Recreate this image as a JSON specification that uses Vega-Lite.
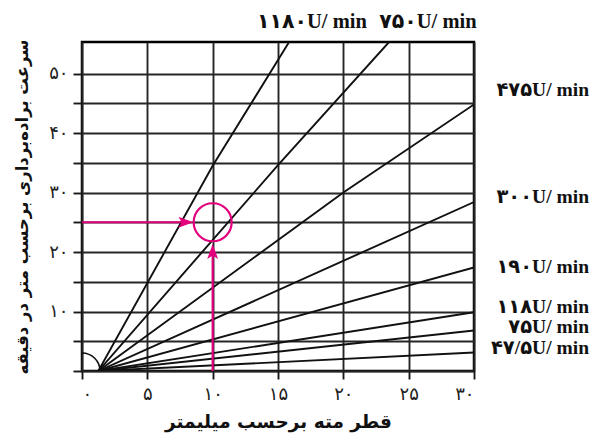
{
  "$schema": "https://vega.github.io/schema/vega-lite/v6.json",
  "width": 392,
  "height": 329,
  "autosize": "none",
  "padding": {"left": 82, "top": 42, "right": 119, "bottom": 67},
  "background": "white",
  "config": {
    "view": {"stroke": "black", "strokeWidth": 2.5},
    "axis": {
      "gridColor": "#262626",
      "gridWidth": 1.9,
      "gridOpacity": 1,
      "tickColor": "#1a1a1a",
      "tickWidth": 1.9,
      "tickSize": 8,
      "domain": false,
      "labelFont": "DejaVu Sans",
      "labelFontSize": 18,
      "labelColor": "#222",
      "titleFont": "DejaVu Sans",
      "titleFontWeight": "bold",
      "titleColor": "#111"
    }
  },
  "datasets": {
    "rays": [
      {"rpm": "1180", "o": 0, "d": 1.25, "v": 0},
      {"rpm": "1180", "o": 1, "d": 10, "v": 34.5},
      {"rpm": "1180", "o": 2, "d": 15.85, "v": 55.3},
      {"rpm": "750", "o": 0, "d": 1.25, "v": 0},
      {"rpm": "750", "o": 1, "d": 15, "v": 34.6},
      {"rpm": "750", "o": 2, "d": 23.5, "v": 55.3},
      {"rpm": "475", "o": 0, "d": 1.25, "v": 0},
      {"rpm": "475", "o": 1, "d": 20, "v": 30},
      {"rpm": "475", "o": 2, "d": 30, "v": 44.8},
      {"rpm": "300", "o": 0, "d": 1.25, "v": 0},
      {"rpm": "300", "o": 1, "d": 30, "v": 28.4},
      {"rpm": "190", "o": 0, "d": 1.25, "v": 0},
      {"rpm": "190", "o": 1, "d": 30, "v": 17.4},
      {"rpm": "118", "o": 0, "d": 1.25, "v": 0},
      {"rpm": "118", "o": 1, "d": 30, "v": 9.87},
      {"rpm": "75", "o": 0, "d": 1.25, "v": 0},
      {"rpm": "75", "o": 1, "d": 30, "v": 6.8},
      {"rpm": "47.5", "o": 0, "d": 1.25, "v": 0},
      {"rpm": "47.5", "o": 1, "d": 30, "v": 3.1}
    ],
    "arrows": [
      {"arrow": "h", "o": 0, "d": 0, "v": 25},
      {"arrow": "h", "o": 1, "d": 7.9, "v": 25},
      {"arrow": "v", "o": 0, "d": 10, "v": 0},
      {"arrow": "v", "o": 1, "d": 10, "v": 20.1}
    ],
    "heads_h": [{"d": 7.95, "v": 25}],
    "heads_v": [{"d": 10, "v": 20.1}],
    "origin": [{"d": 0, "v": 0}],
    "focus": [{"d": 10, "v": 25}],
    "labels_right": [
      {"text": "۴۷۵U/ min", "d": 38.8, "v": 47.2},
      {"text": "۳۰۰U/ min", "d": 38.8, "v": 29.2},
      {"text": "۱۹۰U/ min", "d": 38.8, "v": 17.4},
      {"text": "۱۱۸U/ min", "d": 38.8, "v": 10.8},
      {"text": "۷۵U/ min", "d": 38.8, "v": 7.4},
      {"text": "۴۷/۵U/ min", "d": 38.8, "v": 3.95}
    ],
    "labels_top": [
      {"text": "۱۱۸۰U/ min", "d": 21.8, "v": 58.7},
      {"text": "۷۵۰U/ min", "d": 30.2, "v": 58.7}
    ]
  },
  "encoding": {
    "x": {
      "field": "d",
      "type": "quantitative",
      "scale": {"domain": [0, 30], "nice": false, "zero": false},
      "axis": {
        "title": "قطر مته برحسب میلیمتر",
        "titleFontSize": 18.5,
        "values": [0, 5, 10, 15, 20, 25, 30],
        "labelPadding": 6,
        "titlePadding": 9,
        "labelExpr": "datum.value == 0 ? '۰' : datum.value == 5 ? '۵' : datum.value == 10 ? '۱۰' : datum.value == 15 ? '۱۵' : datum.value == 20 ? '۲۰' : datum.value == 25 ? '۲۵' : '۳۰'"
      }
    },
    "y": {
      "field": "v",
      "type": "quantitative",
      "scale": {"domain": [0, 55.3], "nice": false, "zero": false},
      "axis": {
        "title": "سرعت براده‌برداری برحسب متر در دقیقه",
        "titleFontSize": 16.5,
        "values": [0, 5, 10, 15, 20, 25, 30, 35, 40, 45, 50],
        "tickSize": 9,
        "labelPadding": 5,
        "titlePadding": 18,
        "labelExpr": "datum.value == 10 ? '۱۰' : datum.value == 20 ? '۲۰' : datum.value == 30 ? '۳۰' : datum.value == 40 ? '۴۰' : datum.value == 50 ? '۵۰' : ''"
      }
    }
  },
  "layer": [
    {
      "data": {"name": "rays"},
      "mark": {"type": "line", "color": "#111", "strokeWidth": 1.9, "clip": true},
      "encoding": {"detail": {"field": "rpm"}, "order": {"field": "o"}}
    },
    {
      "data": {"name": "origin"},
      "mark": {"type": "point", "shape": "circle", "size": 1296, "filled": false, "stroke": "#111", "strokeWidth": 1.6, "opacity": 1, "clip": true},
      "encoding": {}
    },
    {
      "data": {"name": "arrows"},
      "mark": {"type": "line", "color": "#e4007c", "strokeWidth": 2.2},
      "encoding": {"detail": {"field": "arrow"}, "order": {"field": "o"}}
    },
    {
      "data": {"name": "heads_h"},
      "mark": {"type": "point", "shape": "M-1,-0.72 L1,0 L-1,0.72 L-0.55,0 Z", "size": 225, "filled": true, "color": "#e4007c", "opacity": 1},
      "encoding": {}
    },
    {
      "data": {"name": "heads_v"},
      "mark": {"type": "point", "shape": "M-0.72,1 L0,-1 L0.72,1 L0,0.55 Z", "size": 225, "filled": true, "color": "#e4007c", "opacity": 1},
      "encoding": {}
    },
    {
      "data": {"name": "focus"},
      "mark": {"type": "point", "shape": "circle", "size": 1444, "filled": false, "stroke": "#e4007c", "strokeWidth": 2.2, "opacity": 1},
      "encoding": {}
    },
    {
      "data": {"name": "labels_right"},
      "mark": {"type": "text", "align": "right", "baseline": "middle", "font": "Liberation Serif, DejaVu Sans", "fontWeight": "bold", "fontSize": 19.5, "color": "#111"},
      "encoding": {"text": {"field": "text"}}
    },
    {
      "data": {"name": "labels_top"},
      "mark": {"type": "text", "align": "right", "baseline": "middle", "font": "Liberation Serif, DejaVu Sans", "fontWeight": "bold", "fontSize": 20.5, "color": "#111"},
      "encoding": {"text": {"field": "text"}}
    }
  ]
}
